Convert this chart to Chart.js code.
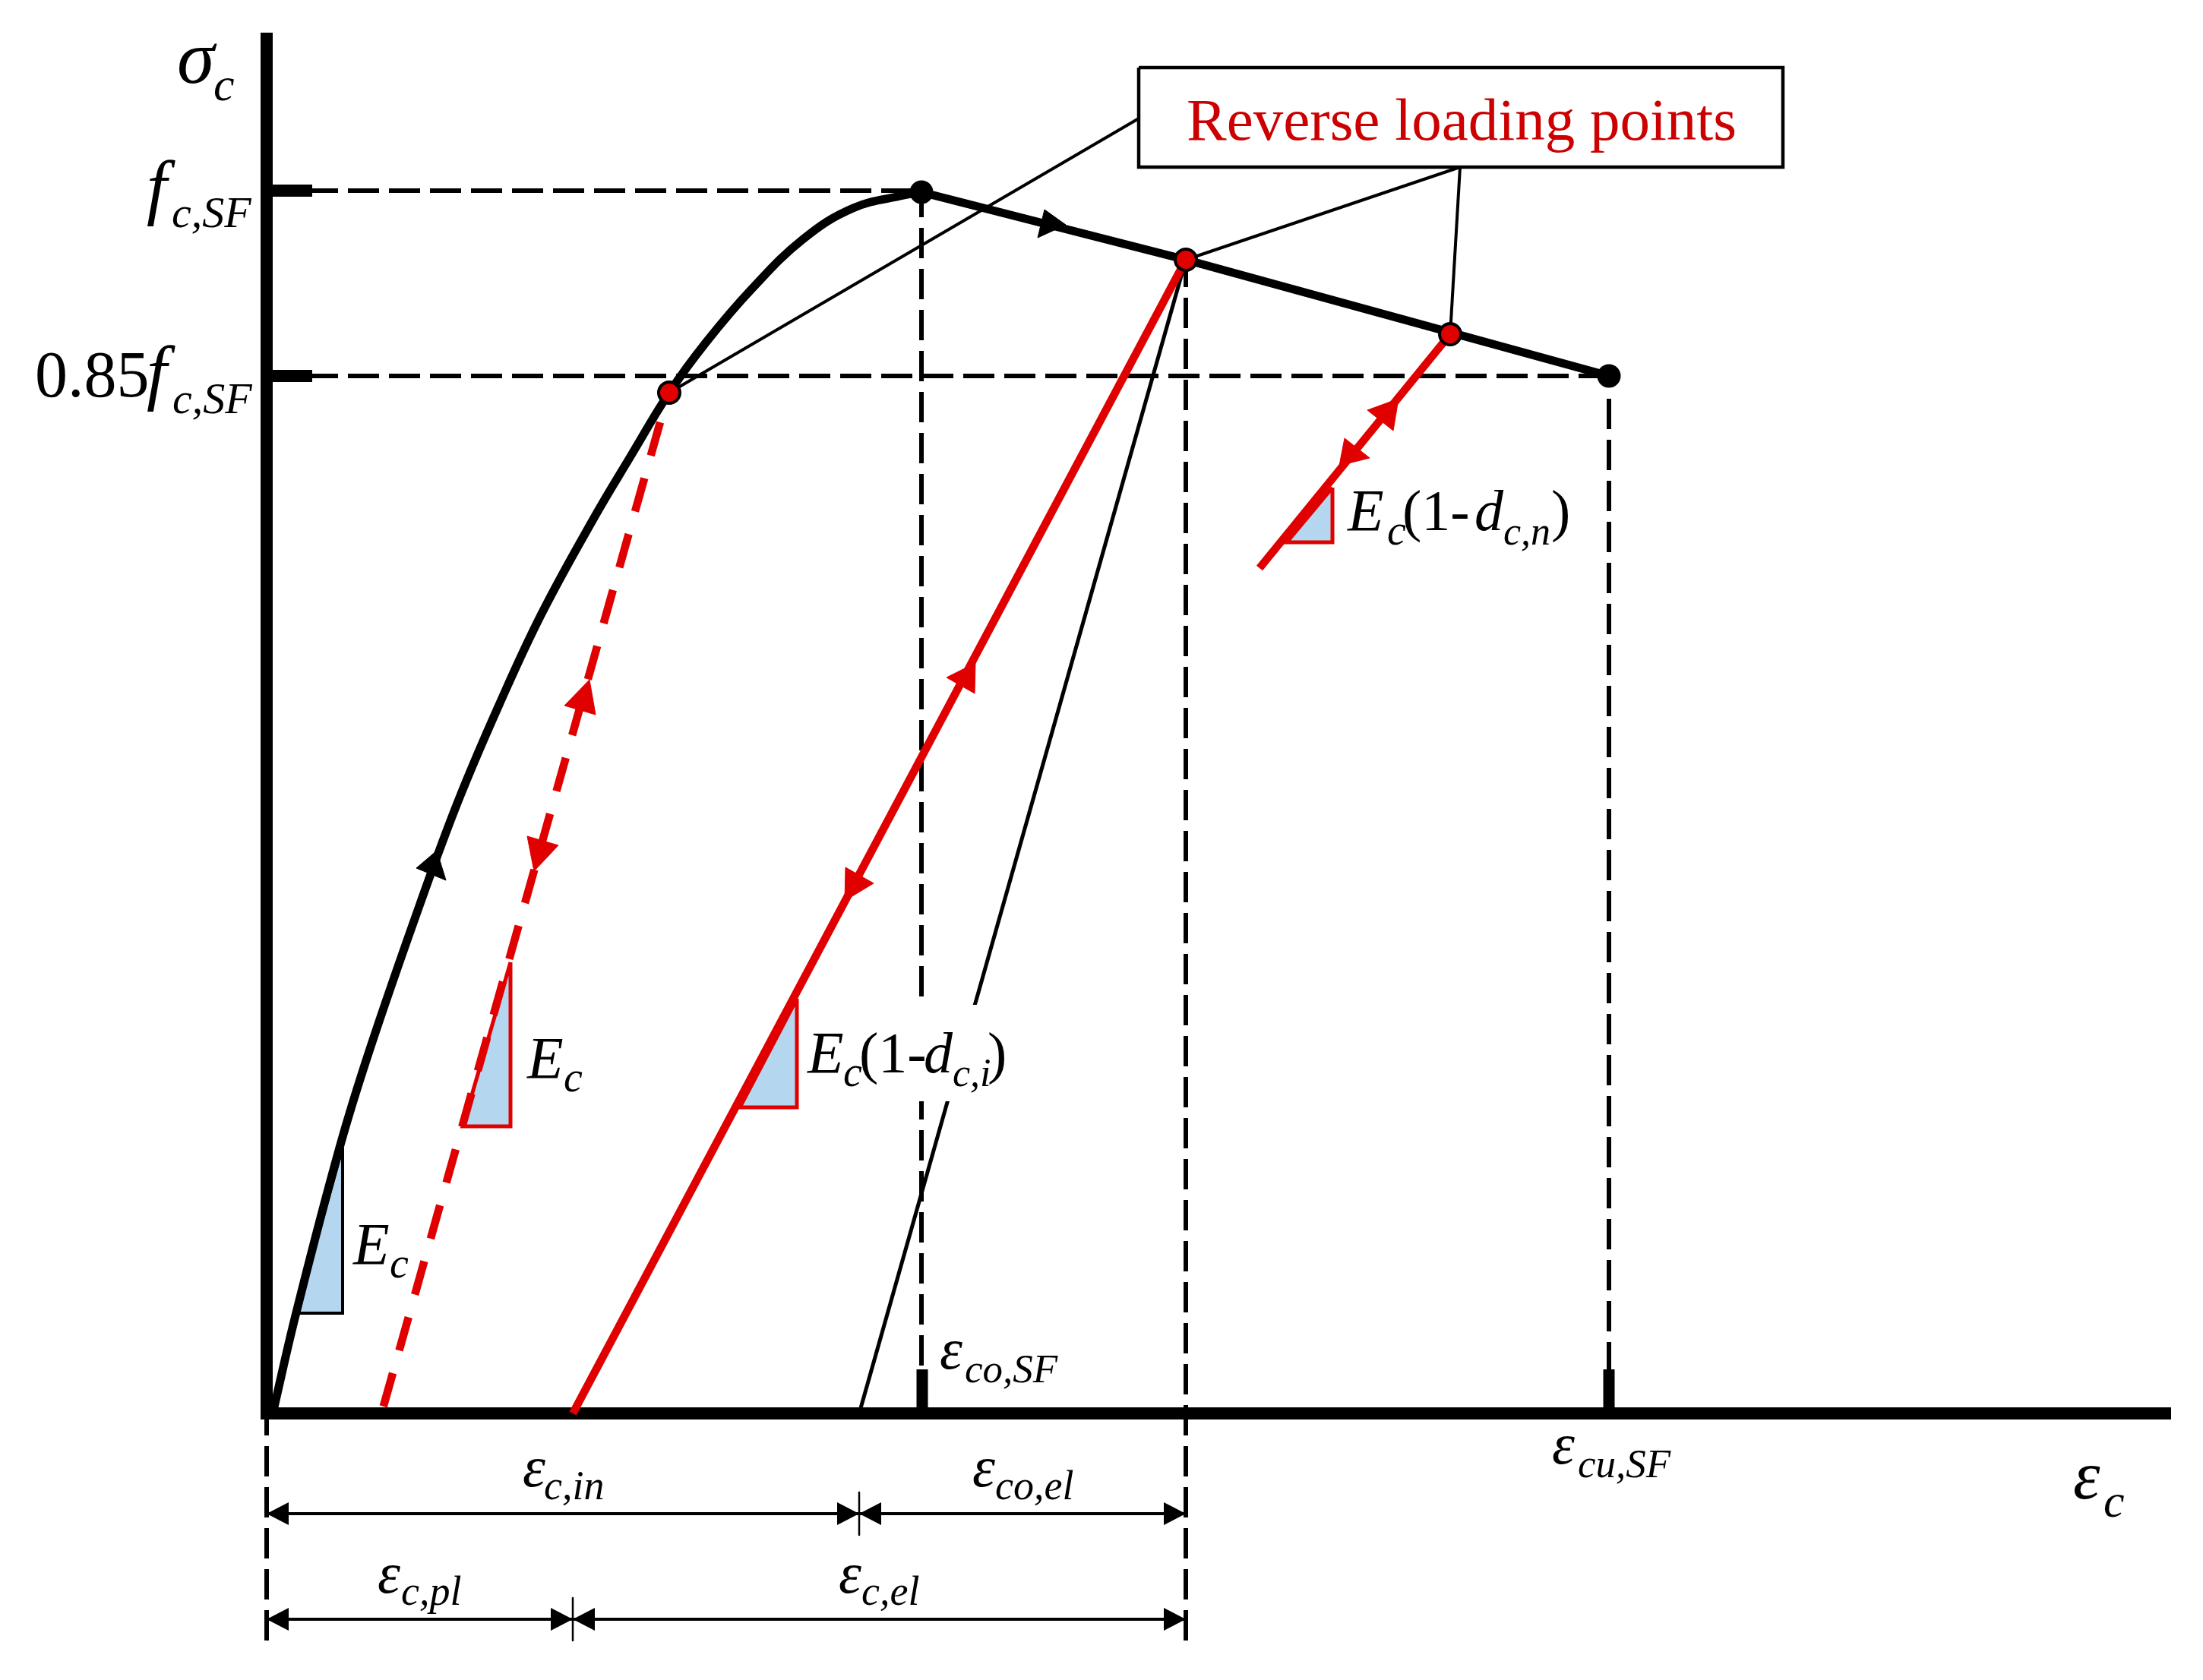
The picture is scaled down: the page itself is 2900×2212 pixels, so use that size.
<!DOCTYPE html>
<html><head><meta charset="utf-8">
<style>html,body{margin:0;padding:0;background:#fff}canvas{display:block}</style>
<script src="https://cdn.jsdelivr.net/npm/chart.js@4"></script>
</head><body><canvas id="c" width="2900" height="2212"></canvas>
<script>
// ---- values read from the schematic (axes in drawing units, origin at the axis corner) ----
const curveStrain = [8,39,96,136,202,252,306,362,432,479,530,579,639,706,772,839,862];
const curveStress = [0,133,350,480,671,806,933,1053,1181,1260,1344,1411,1481,1546,1587,1604,1608];
const softening   = [[862,1608],[1210,1519],[1767,1366]];
const peakPoints  = [[862,1608],[1767,1366]];
const reversePts  = [[530,1344],[1210,1519],[1558,1421]];
const unloadFirst = [[518,1305],[152,3]];
const unloadMain  = [[1210,1519],[403,0]];
const unloadLast  = [[1558,1421],[1307,1113]];
const secantLine  = [[1210,1519],[780,0]];
const strainGuides = [[862,63,1593],[1767,54,1337],[0,-299,10],[1210,-299,1519]];
const stressGuides = [[53,862,1610],[53,1767,1366]];
const stressTicks = [1610,1366];
const strainTicks = [863,1767];
const dimRows = [{y:-132,stops:[0,780,1210],mark:780},{y:-271,stops:[0,403,1210],mark:403}];
const slopeBlack = [[100,350],[100,132],[39,132]];
const slopeRed = [[[321,594],[321,378],[258,378]],[[698,546],[698,403],[623,403]],[[1403,1219],[1403,1147],[1343,1147]]];
const blackArrows = [[[224,741],[197,718],[236,702]],[[1052,1565],[1024,1585],[1015,1548]]];
const redArrows = [[[425,966],[392,932],[433,920]],[[352,714],[343,760],[384,748]],
  [[933,988],[895,969],[932,948]],[[761,675],[762,719],[799,698]],
  [[1490,1336],[1449,1321],[1483,1294]],[[1412,1248],[1419,1284],[1452,1258]]];
const calloutBox = [[1148,1772],[1996,1772],[1996,1641],[1148,1641]];
const calloutLeaders = [[[1148,1705],[530,1344]],[[1571,1641],[1210,1519]],[[1571,1641],[1558,1421]]];
const labelMask = [[709,538],[974,538],[974,411],[709,411]];
// [x, y, colour, parts: [text, style, size, dx, dy]]
const labels = [
 [-118,1752,'#000',[['σ','i',100,0,0],['c','i',62,48,23]]],
 [-154,1583,'#000',[['f','i',96,-4,0],['c,SF','i',58,29,21]]],
 [-305,1339,'#000',[['0.85','r',86,0,0],['f','i',96,147,0],['c,SF','i',58,181,22]]],
 [114,197,'#000',[['E','i',78,0,0],['c','i',56,48,18]]],
 [343,442,'#000',[['E','i',78,0,0],['c','i',56,48,18]]],
 [712,449,'#000',[['E','i',78,0,0],['c','i',56,47,18],['(1-','r',76,68,0],['d','i',76,153,0],['c,i','i',52,191,18],[')','r',76,237,0]]],
 [1423,1163,'#000',[['E','i',78,0,0],['c','i',56,52,19],['(1-','r',76,72,0],['d','i',76,167,0],['c,n','i',52,205,19],[')','r',76,268,0]]],
 [886,59,'#000',[['ε','i',76,0,0],['co,SF','i',53,33,18]]],
 [1692,-66,'#000',[['ε','i',76,0,0],['cu,SF','i',53,34,18]]],
 [2378,-112,'#000',[['ε','i',90,0,0],['c','i',62,40,24]]],
 [337,-96,'#000',[['ε','i',76,0,0],['c,in','i',54,28,17]]],
 [929,-96,'#000',[['ε','i',76,0,0],['co,el','i',54,30,17]]],
 [146,-236,'#000',[['ε','i',76,0,0],['c,pl','i',54,31,16]]],
 [753,-236,'#000',[['ε','i',76,0,0],['c,el','i',54,30,16]]],
 [1211,1677,'#cc0000',[['Reverse loading points','r',79,0,0]]]
];

const RED='#e00000', BLUE='#b5d6ef', FONT='"Liberation Serif"';
const P = a => a.map(p=>({x:p[0],y:p[1]}));
const line = (pairs,color,w,extra={}) => Object.assign({data:P(pairs),showLine:true,borderColor:color,borderWidth:w,pointRadius:0,borderCapStyle:'butt',borderJoinStyle:'round',fill:false,clip:false},extra);
const shape = (pairs,fillC,edge,w) => line(pairs.concat([pairs[0]]),edge,w,{fill:'shape',backgroundColor:fillC,borderJoinStyle:'miter'});

// bottom-to-top drawing order
const layers = [];
stressGuides.forEach(g=>layers.push(line([[g[0],g[2]],[g[1],g[2]]],'#000',6,{borderDash:[41,13]})));
strainGuides.forEach(g=>layers.push(line([[g[0],g[1]],[g[0],g[2]]],'#000',6,{borderDash:[40,14]})));
calloutLeaders.forEach(l=>layers.push(line(l,'#000',4)));
layers.push(line(secantLine,'#000',5));
layers.push(shape(labelMask,'#fff','rgba(0,0,0,0)',0));
layers.push(shape(calloutBox,'#fff','#000',4.5));
layers.push(shape(slopeBlack,BLUE,'#000',4));
slopeRed.forEach(t=>layers.push(shape(t,BLUE,RED,5)));
layers.push(line(curveStrain.map((v,i)=>[v,curveStress[i]]),'#000',11,{tension:0.4}));
layers.push(line(softening,'#000',11));
layers.push(line(unloadFirst,RED,10.5,{borderDash:[45.5,31]}));
layers.push(line(unloadMain,RED,10.5));
layers.push(line(unloadLast,RED,10.5));
stressTicks.forEach(v=>layers.push(line([[0,v],[60,v]],'#000',16)));
strainTicks.forEach(v=>layers.push(line([[v,0],[v,58]],'#000',15)));
blackArrows.forEach(t=>layers.push(shape(t,'#000','#000',1)));
redArrows.forEach(t=>layers.push(shape(t,RED,RED,1)));
dimRows.forEach(r=>{
  layers.push(line([[r.stops[0],r.y],[r.stops[2],r.y]],'#000',4));
  layers.push(line([[r.mark,r.y+28],[r.mark,r.y-28]],'#000',2.5));
});
layers.push(line(reversePts,'#000',0,{showLine:false,pointRadius:14,pointBackgroundColor:RED,pointBorderColor:'#000',pointBorderWidth:4}));
layers.push(line(peakPoints,'#000',0,{showLine:false,pointRadius:15.5,pointBackgroundColor:'#000',pointBorderWidth:0}));
const total=layers.length;
layers.forEach((d,i)=>{d.order=total-i;});

const overlay = {
  id:'overlay',
  afterDatasetsDraw(chart){
    const {ctx,scales:{x,y}} = chart;
    ctx.save();
    // dimension arrowheads, which lie below the axis
    ctx.fillStyle='#000';
    const head=(tx,ty,dir)=>{
      const px=x.getPixelForValue(tx),py=y.getPixelForValue(ty);
      ctx.beginPath();ctx.moveTo(px,py);ctx.lineTo(px+dir*29,py-15);ctx.lineTo(px+dir*29,py+15);ctx.closePath();ctx.fill();
    };
    dimRows.forEach(r=>{
      head(r.stops[0],r.y,1);head(r.stops[1],r.y,-1);head(r.stops[1],r.y,1);head(r.stops[2],r.y,-1);
    });
    // labels with subscripts
    ctx.textBaseline='alphabetic';ctx.textAlign='left';
    labels.forEach(([lx,ly,col,parts])=>{
      const px=x.getPixelForValue(lx),py=y.getPixelForValue(ly);
      ctx.fillStyle=col;
      parts.forEach(([t,s,size,dx,dy])=>{
        ctx.font=(s==='i'?'italic ':'')+size+'px '+FONT;
        ctx.fillText(t,px+dx,py+dy);
      });
    });
    ctx.restore();
  }
};

new Chart(document.getElementById('c'),{
  type:'scatter',
  data:{datasets:layers},
  plugins:[overlay],
  options:{
    responsive:false,animation:false,devicePixelRatio:1,
    layout:{padding:{left:351,right:43,top:51,bottom:351}},
    plugins:{legend:{display:false},tooltip:{enabled:false},title:{display:false}},
    scales:{
      x:{type:'linear',min:0,max:2506,ticks:{display:false},
         grid:{display:false,drawTicks:false},border:{display:true,color:'#000',width:16}},
      y:{type:'linear',min:0,max:1810,ticks:{display:false},
         grid:{display:false,drawTicks:false},border:{display:true,color:'#000',width:16}}
    }
  }
});
</script></body></html>
